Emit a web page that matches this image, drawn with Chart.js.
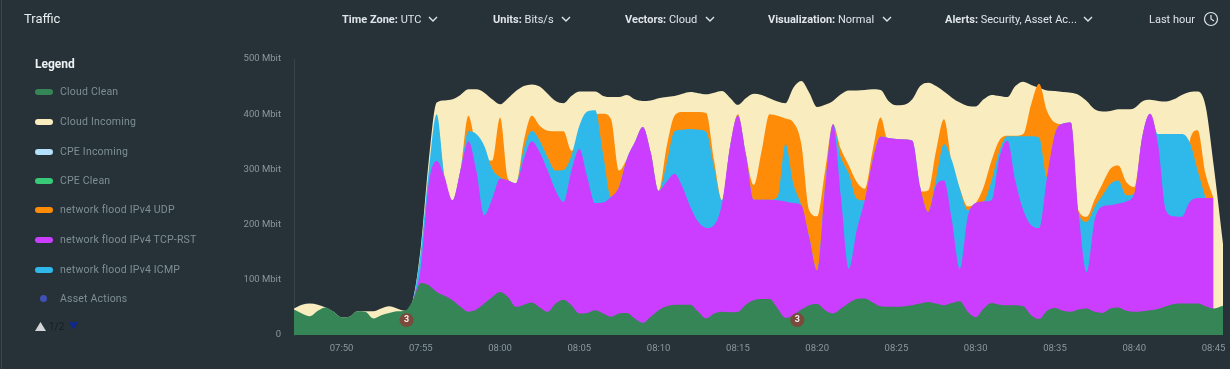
<!DOCTYPE html>
<html>
<head>
<meta charset="utf-8">
<title>Traffic</title>
<script src="https://cdn.jsdelivr.net/npm/chart.js@4"></script>
<style>
    html, body { margin: 0; padding: 0; background: #263238; }
    body { width: 1230px; height: 369px; position: relative; overflow: hidden; font-family: Roboto, sans-serif; }
    canvas { position: absolute; left: 0; top: 0; }
    svg { display: block; }
    .abs { position: absolute; white-space: nowrap; }
    .edge { position: absolute; left: 1px; top: 0; width: 1px; height: 369px; background: #37474f; }
    .title { left: 24px; top: 11px; font-size: 13px; color: #e8eef0; }
    .filter { top: 14px; font-size: 11px; line-height: 12px; color: #dfe5e8; }
    .filter b { font-weight: 700; }
    .legendTitle { left: 35px; top: 57px; font-size: 12px; font-weight: 700; color: #eef2f3; }
    .legendText { left: 60px; font-size: 10.5px; line-height: 12px; color: #7f8e95; letter-spacing: 0.2px; }
    .pager { font-size: 10px; line-height: 12px; color: #161d21; }
    .swatch { position: absolute; left: 35px; width: 18px; height: 6px; border-radius: 3px; }
    .dot { position: absolute; left: 40px; width: 7px; height: 7px; border-radius: 50%; }
</style>
</head>
<body>
<div class="edge"></div>
<canvas id="trafficChart" width="1230" height="369"></canvas>
<div id="overlay"></div>
<script>
// minutes after 07:00, sampled every 30 s
const times = [
    47, 47.5, 48, 48.5, 49, 49.5, 50, 50.5, 51, 51.5,
    52, 52.5, 53, 53.5, 54, 54.5, 55, 55.5, 56, 56.5,
    57, 57.5, 58, 58.5, 59, 59.5, 60, 60.5, 61, 61.5,
    62, 62.5, 63, 63.5, 64, 64.5, 65, 65.5, 66, 66.5,
    67, 67.5, 68, 68.5, 69, 69.5, 70, 70.5, 71, 71.5,
    72, 72.5, 73, 73.5, 74, 74.5, 75, 75.5, 76, 76.5,
    77, 77.5, 78, 78.5, 79, 79.5, 80, 80.5, 81, 81.5,
    82, 82.5, 83, 83.5, 84, 84.5, 85, 85.5, 86, 86.5,
    87, 87.5, 88, 88.5, 89, 89.5, 90, 90.5, 91, 91.5,
    92, 92.5, 93, 93.5, 94, 94.5, 95, 95.5, 96, 96.5,
    97, 97.5, 98, 98.5, 99, 99.5, 100, 100.5, 101, 101.5,
    102, 102.5, 103, 103.5, 104, 104.5, 105, 105.6
];

const cloudClean = [
    46, 39, 34, 44, 50, 42, 32, 33, 43, 42,
    30, 36, 40, 43, 44, 63, 94, 90, 78, 71,
    63, 51, 42, 46, 57, 69, 78, 69, 51, 55,
    59, 50, 42, 57, 64, 54, 39, 40, 45, 39,
    33, 39, 40, 30, 22, 33, 45, 52, 55, 55,
    55, 42, 30, 39, 42, 41, 42, 55, 63, 65,
    65, 48, 31, 36, 46, 54, 56, 45, 39, 48,
    58, 65, 66, 59, 52, 51, 51, 52, 54, 57,
    60, 57, 54, 58, 61, 42, 32, 48, 58, 55,
    54, 54, 52, 36, 29, 44, 49, 44, 42, 46,
    48, 42, 40, 48, 50, 44, 42, 43, 45, 47,
    52, 56, 57, 57, 57, 52, 48, 53
];

const cloudIncoming = [
    48, 55, 57, 55, 50, 42, 32, 33, 43, 43,
    43, 48, 52, 48, 44, 64, 160, 316, 421, 425,
    427, 435, 445, 445, 439, 427, 418, 429, 442, 451,
    454, 450, 437, 424, 420, 433, 441, 441, 441, 433,
    431, 431, 435, 427, 424, 425, 429, 431, 433, 437,
    440, 438, 436, 439, 442, 430, 417, 429, 437, 435,
    429, 423, 420, 448, 460, 439, 413, 417, 424, 436,
    443, 443, 444, 445, 444, 424, 416, 417, 427, 451,
    457, 451, 441, 430, 421, 415, 414, 427, 435, 433,
    431, 451, 459, 453, 448, 443, 442, 440, 439, 435,
    424, 409, 405, 406, 409, 409, 411, 423, 426, 424,
    423, 427, 435, 440, 441, 415, 310, 165
];

const floodUdp = [
    0, 0, 0, 0, 0, 0, 0, 0, 0, 0,
    0, 0, 0, 0, 0, 60, 120, 270, 380, 286,
    244, 298, 397, 340, 320, 316, 394, 283, 275, 352,
    397, 379, 370, 369, 369, 334, 340, 370, 400, 401,
    391, 298, 319, 349, 377, 331, 261, 340, 397, 404,
    404, 404, 402, 316, 244, 340, 400, 328, 272, 334,
    400, 397, 392, 385, 346, 226, 215, 298, 382, 337,
    307, 277, 265, 334, 394, 350, 355, 354, 352, 260,
    262, 334, 391, 310, 265, 233, 239, 268, 316, 353,
    361, 361, 364, 418, 455, 406, 385, 382, 385, 225,
    214, 245, 274, 301, 307, 277, 268, 358, 401, 346,
    226, 215, 214, 352, 371, 292, 248, null
];

const floodTcpRst = [
    0, 0, 0, 0, 0, 0, 0, 0, 0, 0,
    0, 0, 0, 0, 0, 60, 123, 274, 315, 286,
    244, 298, 351, 298, 217, 247, 283, 280, 275, 319,
    351, 331, 298, 262, 241, 298, 337, 286, 239, 240,
    250, 268, 319, 349, 377, 331, 261, 277, 292, 268,
    232, 205, 194, 199, 238, 340, 397, 328, 245, 245,
    245, 244, 242, 239, 235, 177, 117, 268, 382, 250,
    120, 190, 244, 316, 359, 357, 355, 354, 352, 268,
    223, 271, 280, 208, 120, 214, 239, 242, 244, 322,
    352, 280, 226, 199, 194, 286, 364, 383, 385, 220,
    114, 208, 233, 235, 238, 242, 256, 358, 401, 346,
    226, 215, 214, 241, 248, 248, 248, null
];

const floodIcmp = [
    0, 0, 0, 0, 0, 0, 0, 0, 0, 0,
    0, 0, 0, 0, 0, 60, 153, 298, 400, 286,
    244, 298, 369, 364, 343, 301, 286, 280, 275, 337,
    370, 352, 322, 298, 299, 325, 379, 405, 407, 328,
    250, 268, 319, 349, 377, 331, 261, 310, 369, 372,
    373, 372, 368, 304, 244, 340, 397, 328, 245, 245,
    245, 250, 346, 274, 235, 177, 117, 268, 382, 322,
    292, 247, 244, 316, 359, 357, 355, 354, 352, 268,
    223, 283, 346, 316, 265, 226, 239, 242, 280, 334,
    360, 360, 360, 360, 358, 286, 364, 383, 385, 220,
    205, 232, 253, 274, 280, 253, 256, 358, 401, 364,
    364, 364, 364, 349, 298, 248, null, null
];

// alert markers: minute, height on the axis, count shown in the badge
const alertTimes = [54.1, 78.75];
const alertLevels = [27, 27];
const alertCounts = ['3', '3'];

const yTicks = [0, 100, 200, 300, 400, 500];

const legendNames = ['Cloud Clean', 'Cloud Incoming', 'CPE Incoming', 'CPE Clean',
    'network flood IPv4 UDP', 'network flood IPv4 TCP-RST', 'network flood IPv4 ICMP', 'Asset Actions'];
const legendColors = ['#368556', '#f9ecbf', '#b3e0fa', '#37c878', '#ff8c09', '#cb3dff', '#2fb9ea', '#3f51b5'];
const legendRows = [91, 121, 151, 180, 209, 239, 269, 298];

const filters = [
    { x: 342, name: 'Time Zone:', value: 'UTC', chev: 428 },
    { x: 493, name: 'Units:', value: 'Bits/s', chev: 561 },
    { x: 625, name: 'Vectors:', value: 'Cloud', chev: 705 },
    { x: 768, name: 'Visualization:', value: 'Normal', chev: 882 },
    { x: 945, name: 'Alerts:', value: 'Security, Asset Ac...', chev: 1083 }
];

function toPoints(values) {
    return times.map((t, i) => ({ x: t, y: values[i] }));
}

function area(label, values, color) {
    return {
        label: label,
        data: toPoints(values),
        backgroundColor: color,
        borderColor: color,
        borderWidth: 0,
        pointRadius: 0,
        fill: 'origin',
        cubicInterpolationMode: 'monotone'
    };
}

function clockLabel(minutes) {
    const h = Math.floor(minutes / 60) + 7;
    const m = minutes % 60;
    return String(h).padStart(2, '0') + ':' + String(m).padStart(2, '0');
}

// number inside the alert badges
const badgeText = {
    id: 'badgeText',
    afterDatasetsDraw(chart) {
        const ctx = chart.ctx;
        chart.getDatasetMeta(0).data.forEach((pt, i) => {
            ctx.save();
            ctx.fillStyle = '#f4eeee';
            ctx.font = '700 9px Roboto, sans-serif';
            ctx.textAlign = 'center';
            ctx.textBaseline = 'middle';
            ctx.fillText(alertCounts[i], pt.x, pt.y);
            ctx.restore();
        });
    }
};

new Chart(document.getElementById('trafficChart').getContext('2d'), {
    type: 'line',
    data: {
        datasets: [
            {
                label: 'Asset Actions',
                data: alertTimes.map((t, i) => ({ x: t, y: alertLevels[i] })),
                showLine: false,
                pointRadius: 7,
                pointBackgroundColor: '#7a4a3c',
                pointBorderWidth: 0
            },
            area('Cloud Clean', cloudClean, '#368556'),
            area('network flood IPv4 TCP-RST', floodTcpRst, '#cb3dff'),
            area('network flood IPv4 ICMP', floodIcmp, '#2fb9ea'),
            area('network flood IPv4 UDP', floodUdp, '#ff8c09'),
            area('Cloud Incoming', cloudIncoming, '#f9ecbf')
        ]
    },
    options: {
        responsive: false,
        animation: false,
        layout: { padding: { left: 0, right: 6, top: 59, bottom: 0 } },
        plugins: { legend: { display: false }, tooltip: { enabled: false } },
        scales: {
            x: {
                type: 'linear',
                min: 47,
                max: 105.6,
                grid: { display: false, drawTicks: false },
                border: { display: false },
                afterFit: (axis) => {
                    axis.height = 34;
                    axis.paddingRight = 0; // keep the 08:45 label from shrinking the plot
                },
                ticks: {
                    stepSize: 5,
                    includeBounds: false,
                    maxRotation: 0,
                    autoSkip: false,
                    padding: 8,
                    color: '#8a979d',
                    font: { family: 'Roboto', size: 9.5 },
                    callback: (v) => clockLabel(v)
                }
            },
            y: {
                min: 0,
                max: 500,
                grid: { display: false, drawTicks: false },
                border: { display: true, color: '#36444b', width: 1 },
                afterFit: (axis) => { axis.width = 294; },
                afterBuildTicks: (axis) => { axis.ticks = yTicks.map((v) => ({ value: v })); },
                ticks: {
                    padding: 13,
                    color: '#8a979d',
                    font: { family: 'Roboto', size: 9.5 },
                    callback: (v) => (v === 0 ? '0' : v + ' Mbit')
                }
            }
        }
    },
    plugins: [badgeText]
});

// header and legend are plain text next to the canvas
const overlay = document.getElementById('overlay');

function addDiv(cls, x, y, html) {
    const el = document.createElement('div');
    el.className = 'abs ' + cls;
    if (x !== null) el.style.left = x + 'px';
    if (y !== null) el.style.top = y + 'px';
    el.innerHTML = html;
    overlay.appendChild(el);
    return el;
}

const chevron = '<svg width="10" height="7" viewBox="0 0 10 7"><path d="M1 1 L5 5 L9 1" fill="none" stroke="#dfe5e8" stroke-width="1.4"/></svg>';

addDiv('title', null, null, 'Traffic');
filters.forEach((f) => {
    addDiv('filter', f.x, null, '<b>' + f.name + '</b> ' + f.value);
    addDiv('', f.chev, 16, chevron);
});
addDiv('filter', 1149, null, 'Last hour');
addDiv('', 1203, 11, '<svg width="16" height="16" viewBox="0 0 16 16"><circle cx="8" cy="8" r="6.5" fill="none" stroke="#dfe5e8" stroke-width="1.2"/><path d="M8 4 V8 L11 10" fill="none" stroke="#dfe5e8" stroke-width="1.2"/></svg>');

addDiv('legendTitle', null, null, 'Legend');
legendNames.forEach((name, i) => {
    const y = legendRows[i];
    addDiv('legendText', null, y - 5, name);
    if (name === 'Asset Actions') {
        const d = addDiv('dot', null, y - 3, '');
        d.style.background = legendColors[i];
    } else {
        const s = addDiv('swatch', null, y - 2, '');
        s.style.background = legendColors[i];
    }
});
addDiv('', 35, 322, '<svg width="11" height="9" viewBox="0 0 11 10" preserveAspectRatio="none"><path d="M5.5 0 L11 10 L0 10 Z" fill="#d2d6d8"/></svg>');
addDiv('pager', 49, 321, '1/2');
addDiv('', 69, 322, '<svg width="9" height="8" viewBox="0 0 9 8"><path d="M0 0 L9 0 L4.5 8 Z" fill="#10288a"/></svg>');
</script>
</body>
</html>
